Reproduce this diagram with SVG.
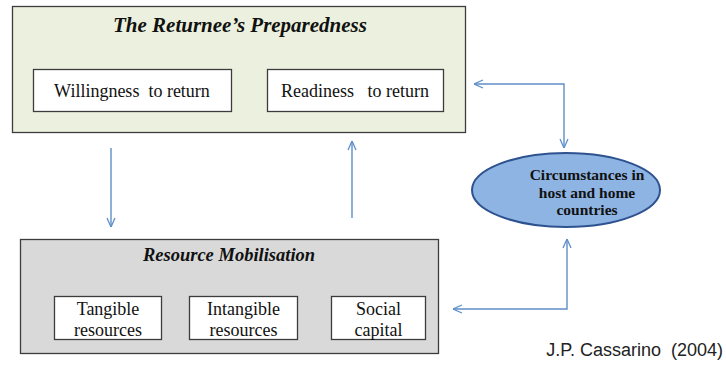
<svg xmlns="http://www.w3.org/2000/svg" width="726" height="371" viewBox="0 0 726 371">
<defs>
<marker id="ah" viewBox="0 0 10 10" refX="10" refY="5" markerWidth="10" markerHeight="10" markerUnits="userSpaceOnUse" orient="auto-start-reverse">
<path d="M1,1 L10,5 L1,9" fill="none" stroke="#5f8fc8" stroke-width="1.3"/>
</marker>
<style>
.frame{stroke:#3c3c3c;stroke-width:1.3}
.inner{fill:#ffffff;stroke:#3c3c3c;stroke-width:1.3}
.title{font-family:"Liberation Serif",serif;font-weight:bold;font-style:italic;fill:#111;text-anchor:middle}
.lbl{font-family:"Liberation Serif",serif;font-size:18px;fill:#111;text-anchor:middle}
.ell{font-family:"Liberation Serif",serif;font-weight:bold;font-size:15.5px;fill:#111;text-anchor:middle}
.conn{fill:none;stroke:#5f8fc8;stroke-width:1.4}
</style>
</defs>
<rect width="726" height="371" fill="#ffffff"/>
<g id="preparedness">
<rect class="frame" x="12.5" y="6.5" width="453" height="126" fill="#ebf1de"/>
<text class="title" x="240" y="32" font-size="21">The Returnee’s Preparedness</text>
</g>
<g id="willingness">
<rect class="inner" x="33.5" y="69.5" width="198" height="42"/>
<text class="lbl" x="132" y="97" xml:space="preserve">Willingness  to return</text>
</g>
<g id="readiness">
<rect class="inner" x="267.5" y="69.5" width="176" height="42"/>
<text class="lbl" x="355" y="97" xml:space="preserve">Readiness   to return</text>
</g>
<g id="mobilisation">
<rect class="frame" x="20.5" y="239.5" width="418" height="114" fill="#d9d9d9"/>
<text class="title" x="229" y="261" font-size="18.5">Resource Mobilisation</text>
</g>
<g id="tangible">
<rect class="inner" x="54.5" y="296.5" width="107" height="43"/>
<text class="lbl" x="108" y="315">Tangible</text>
<text class="lbl" x="108" y="336">resources</text>
</g>
<g id="intangible">
<rect class="inner" x="189.5" y="296.5" width="108" height="43"/>
<text class="lbl" x="243.5" y="315">Intangible</text>
<text class="lbl" x="243.5" y="336">resources</text>
</g>
<g id="social">
<rect class="inner" x="331.5" y="296.5" width="94" height="43"/>
<text class="lbl" x="378.5" y="315">Social</text>
<text class="lbl" x="378.5" y="336">capital</text>
</g>
<g id="circumstances">
<ellipse cx="566" cy="190" rx="94" ry="37" fill="#8eb4e3" stroke="#2e5290" stroke-width="2"/>
<text class="ell" x="587" y="180">Circumstances in</text>
<text class="ell" x="587" y="198">host and home</text>
<text class="ell" x="587" y="215">countries</text>
</g>
<g id="connectors">
<line class="conn" x1="111" y1="148" x2="111" y2="227" marker-end="url(#ah)"/>
<line class="conn" x1="352" y1="218" x2="352" y2="141" marker-end="url(#ah)"/>
<polyline class="conn" points="474,84 564,84 564,148" marker-start="url(#ah)" marker-end="url(#ah)"/>
<polyline class="conn" points="567,239 567,309 453,309" marker-start="url(#ah)" marker-end="url(#ah)"/>
</g>
<text x="723" y="356" font-family="Liberation Sans,Arial,sans-serif" font-size="18" fill="#222" text-anchor="end" xml:space="preserve">J.P. Cassarino  (2004)</text>
</svg>
